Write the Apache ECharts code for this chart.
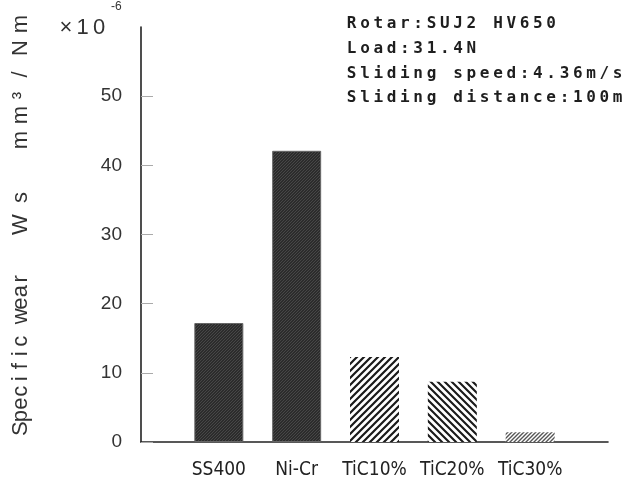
<!DOCTYPE html>
<html>
<head>
<meta charset="utf-8">
<script src="https://cdn.jsdelivr.net/npm/echarts@6/dist/echarts.min.js"></script>
<style>html,body{margin:0;padding:0;background:#fff;}#c{width:634px;height:484px;}</style>
</head>
<body>
<div id="c"></div>
<script>
// ---- data ----
const categories = ['SS400', 'Ni-Cr', 'TiC10%', 'TiC20%', 'TiC30%'];
const wearValues = [17.2, 42.1, 12.3, 8.7, 1.4];
const yTickValues = [0, 10, 20, 30, 40, 50];
const yAxisTitle = 'Specific wear Ws mm³/Nm';
const scaleText = ['×10', '-6'];
const conditionLines = ['Rotar:SUJ2 HV650', 'Load:31.4N', 'Sliding speed:4.36m/s', 'Sliding distance:100m'];

// ---- hatch patterns ----
function hatch(p, bg, fg, lw, dir) {
  const c = document.createElement('canvas');
  c.width = p; c.height = p;
  const g = c.getContext('2d');
  g.fillStyle = bg; g.fillRect(0, 0, p, p);
  g.strokeStyle = fg; g.lineWidth = lw; g.lineCap = 'butt';
  g.beginPath();
  for (let k = -1; k <= 1; k++) {
    if (dir === '/') {
      g.moveTo(-p + k * p, 2 * p); g.lineTo(2 * p + k * p, -p);
    } else {
      g.moveTo(-p, -p + k * p); g.lineTo(2 * p, 2 * p + k * p);
    }
  }
  g.stroke();
  return c;
}
const patterns = [
  hatch(3, '#2c2c2c', '#474747', 1, '/'),
  hatch(3, '#2c2c2c', '#474747', 1, '/'),
  hatch(7, '#ffffff', '#1a1a1a', 2.2, '/'),
  hatch(7, '#ffffff', '#1a1a1a', 2.1, '\\'),
  hatch(4, '#ffffff', '#555555', 1.4, '/')
];
const borders = ['#666', '#666', null, null, null];

function richSeq(text, widths, styles) {
  return text.split('').map((ch, i) => '{' + styles[i] + i + '|' + ch + '}').join('');
}
function richStyles(text, widths, styles, base) {
  const r = {};
  text.split('').forEach((ch, i) => {
    r[styles[i] + i] = Object.assign({ width: widths[i], align: 'center' }, base[styles[i]]);
  });
  return r;
}

// y title cells
const yW = [], yS = [];
for (let i = 0; i < 13; i++) { yW.push(12.5); yS.push('n'); }
[32, 32, 22, 34, 25, 25, 14, 28, 25, 23].forEach(w => { yW.push(w); yS.push('w'); });
const yBase = {
  n: { fontFamily: '"Liberation Sans", Arial, sans-serif', fontSize: 22, fill: '#333' },
  w: { fontFamily: '"Liberation Sans", Arial, sans-serif', fontSize: 22, fill: '#333' }
};

const condBase = { c: { fontFamily: '"DejaVu Sans Mono", monospace', fontSize: 16, fontWeight: 'bold', fill: '#1e1e1e' } };

const graphics = [];
graphics.push({
  type: 'text', x: 21, y: 435, rotation: Math.PI / 2,
  style: { text: richSeq(yAxisTitle, yW, yS), rich: richStyles(yAxisTitle, yW, yS, yBase), align: 'left', verticalAlign: 'middle' }
});
const sW = [18, 15, 18], sS = ['c', 'c', 'c'];
graphics.push({
  type: 'text', x: 57, y: 28,
  style: { text: richSeq(scaleText[0], sW, sS), rich: richStyles(scaleText[0], sW, sS, { c: { fontFamily: '"Liberation Sans", Arial, sans-serif', fontSize: 22, fill: '#333' } }), align: 'left', verticalAlign: 'middle' }
});
graphics.push({
  type: 'text', x: 111, y: 7,
  style: { text: scaleText[1], fontFamily: '"Liberation Sans", Arial, sans-serif', fontSize: 12, fill: '#333', align: 'left', verticalAlign: 'middle' }
});
const condY = [24, 49, 74, 98];
conditionLines.forEach((line, k) => {
  const w = line.split('').map(() => 13.3), s = line.split('').map(() => 'c');
  graphics.push({
    type: 'text', x: 345, y: condY[k],
    style: { text: richSeq(line, w, s), rich: richStyles(line, w, s, condBase), align: 'left', verticalAlign: 'middle' }
  });
});

const barData = ['-'].concat(wearValues.map((v, i) => ({
  value: v,
  itemStyle: { color: { image: patterns[i], repeat: 'repeat' }, borderColor: borders[i] || 'transparent', borderWidth: borders[i] ? 1 : 0 }
}))).concat(['-']);

const chart = echarts.init(document.getElementById('c'), null, { renderer: 'canvas' });
chart.setOption({
  animation: false,
  backgroundColor: '#fff',
  grid: { left: 141, right: 26, top: 27, bottom: 42, containLabel: false, outerBoundsMode: 'none' },
  xAxis: {
    type: 'category',
    boundaryGap: false,
    data: [''].concat(categories).concat(['']),
    axisLine: { lineStyle: { color: '#222', width: 1.6 } },
    axisTick: { show: false },
    axisLabel: { interval: 0, margin: 19, color: '#222', fontSize: 19, fontFamily: '"Liberation Sans Narrow", "DejaVu Sans Condensed", "Liberation Sans", Arial, sans-serif' },
    splitLine: { show: false }
  },
  yAxis: {
    type: 'value', min: 0, max: 60, interval: 10,
    axisLine: { show: true, lineStyle: { color: '#222', width: 1.6 } },
    axisTick: { show: true, inside: true, length: 12, lineStyle: { color: '#aaa', width: 1 }, customValues: yTickValues },
    axisLabel: { margin: 19, color: '#333', fontSize: 19, fontFamily: '"Liberation Sans", Arial, sans-serif', customValues: yTickValues },
    splitLine: { show: false }
  },
  series: [{
    type: 'bar',
    data: barData,
    barWidth: 49
  }],
  graphic: graphics
});
</script>
</body>
</html>
